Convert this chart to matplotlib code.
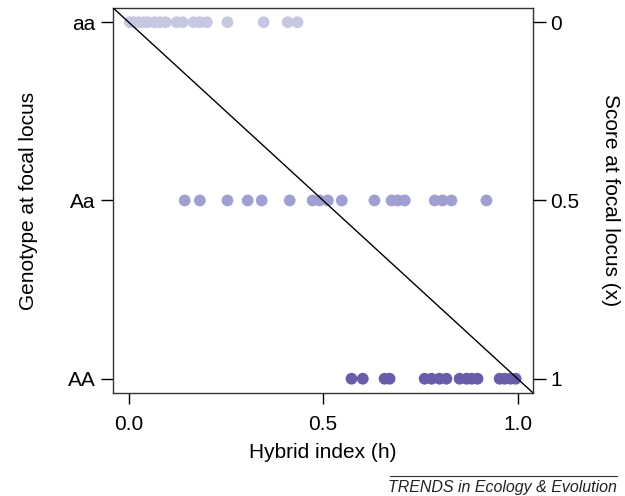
import numpy as np
import matplotlib
matplotlib.use("Agg")
import matplotlib.pyplot as plt

plt.rcParams['font.family'] = ['Liberation Sans', 'DejaVu Sans']

# hybrid index of individuals, grouped by genotype at the focal locus
h_aa = [0.003, 0.013, 0.026, 0.039, 0.049, 0.067, 0.080, 0.095, 0.123, 0.139,
        0.167, 0.183, 0.201, 0.254, 0.347, 0.409, 0.434]
h_Aa = [0.144, 0.183, 0.254, 0.306, 0.342, 0.414, 0.473, 0.491, 0.512, 0.548,
        0.632, 0.676, 0.692, 0.710, 0.787, 0.807, 0.830, 0.920]
h_AA = [0.573, 0.602, 0.658, 0.671, 0.761, 0.779, 0.799, 0.817, 0.851, 0.869,
        0.882, 0.897, 0.954, 0.967, 0.982, 0.995]

scores = [0, 0.5, 1]
genotypes = ["aa", "Aa", "AA"]
score_labels = ["0", "0.5", "1"]
x_ticks = [0.0, 0.5, 1.0]
colors = ["#c6c7e1", "#9f9fd2", "#6a5bab"]

fs = 15

fig = plt.figure(figsize=(6.25, 4.96), dpi=100)
ax = fig.add_axes([0.181, 0.2077, 0.672, 0.7763])

for hs, s, c in zip([h_aa, h_Aa, h_AA], scores, colors):
    ax.scatter(hs, [s] * len(hs), s=72, color=c, edgecolors="none", zorder=2)

ax.axline((0, 0), (1, 1), color="black", lw=1.0, zorder=3)

ax.set_xlim(-0.04, 1.04)
ax.set_ylim(1.04, -0.04)

for sp in ax.spines.values():
    sp.set_linewidth(1.0)
    sp.set_color("#333333")

ax.set_xticks(x_ticks)
ax.set_xticklabels(["%.1f" % v for v in x_ticks])
ax.set_yticks(scores)
ax.set_yticklabels(genotypes)
ax.tick_params(axis="x", length=8, width=1, pad=8, labelsize=fs)
ax.tick_params(axis="y", length=9, width=1, pad=3.5, labelsize=fs)
ax.set_xlabel("Hybrid index (h)", fontsize=fs, labelpad=6)
ax.set_ylabel("Genotype at focal locus", fontsize=fs)
ax.yaxis.set_label_coords(-0.180, 0.5)

ax2 = ax.twinx()
ax2.set_ylim(1.04, -0.04)
ax2.set_yticks(scores)
ax2.set_yticklabels(score_labels)
ax2.tick_params(axis="y", length=9, width=1, pad=3.5, labelsize=fs)
ax2.set_ylabel("Score at focal locus (x)", fontsize=fs, rotation=270,
               labelpad=29)
for sp in ax2.spines.values():
    sp.set_visible(False)

# journal footer
fig.add_artist(plt.Line2D([0.624, 0.987], [0.04, 0.04], color="#333333", lw=0.8))
fig.text(0.987, 0.018, "TRENDS in Ecology & Evolution", ha="right", va="center",
         fontsize=11.5, style="italic", color="#222222")

fig.savefig("out.png", dpi=100)
